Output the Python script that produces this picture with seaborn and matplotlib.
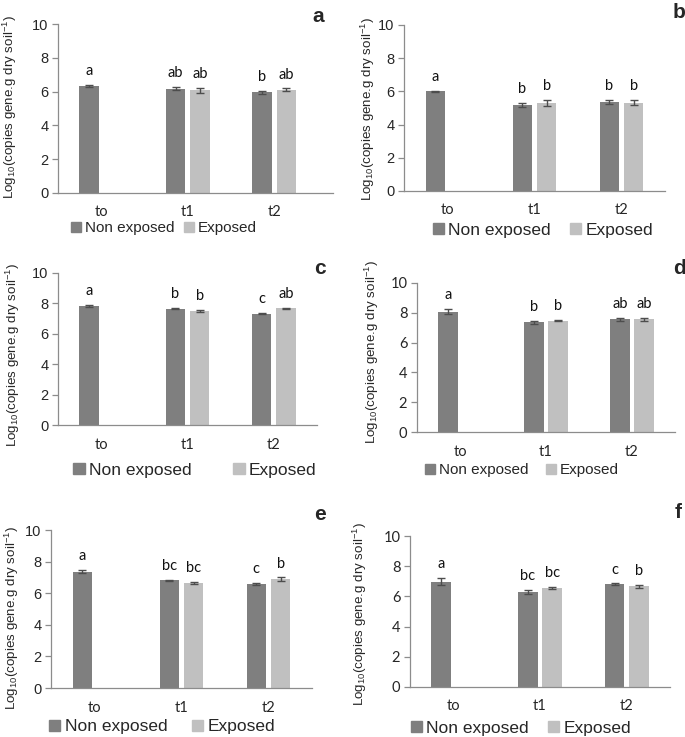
import numpy as np
import pandas as pd
import matplotlib
matplotlib.use('Agg')
import matplotlib.pyplot as plt
import seaborn as sns
from matplotlib.patches import Patch

# sampling times and treatments
groups = ['to', 't1', 't2']
treatments = ['Non exposed', 'Exposed']

# values (log10 copies), error bars, letters
a_non = [6.35, 6.18, 5.95]
a_non_err = [0.07, 0.08, 0.10]
a_exp = [0.0, 6.07, 6.12]
a_exp_err = [0.0, 0.13, 0.07]
a_let_non = ['a', 'ab', 'b']
a_let_exp = ['', 'ab', 'ab']

b_non = [6.00, 5.18, 5.38]
b_non_err = [0.03, 0.12, 0.12]
b_exp = [0.0, 5.32, 5.32]
b_exp_err = [0.0, 0.17, 0.15]
b_let_non = ['a', 'b', 'b']
b_let_exp = ['', 'b', 'b']

c_non = [7.82, 7.65, 7.33]
c_non_err = [0.06, 0.03, 0.04]
c_exp = [0.0, 7.52, 7.67]
c_exp_err = [0.0, 0.07, 0.03]
c_let_non = ['a', 'b', 'c']
c_let_exp = ['', 'b', 'ab']

d_non = [8.07, 7.35, 7.56]
d_non_err = [0.18, 0.10, 0.12]
d_exp = [0.0, 7.47, 7.56]
d_exp_err = [0.0, 0.05, 0.12]
d_let_non = ['a', 'b', 'ab']
d_let_exp = ['', 'b', 'ab']

e_non = [7.35, 6.82, 6.60]
e_non_err = [0.10, 0.02, 0.05]
e_exp = [0.0, 6.67, 6.90]
e_exp_err = [0.0, 0.07, 0.10]
e_let_non = ['a', 'bc', 'c']
e_let_exp = ['', 'bc', 'b']

f_non = [6.98, 6.30, 6.80]
f_non_err = [0.22, 0.12, 0.06]
f_exp = [0.0, 6.55, 6.67]
f_exp_err = [0.0, 0.06, 0.10]
f_let_non = ['a', 'bc', 'c']
f_let_exp = ['', 'bc', 'b']

sns.set_style('white')
plt.rcParams['font.family'] = ['Liberation Sans', 'DejaVu Sans']
plt.rcParams['mathtext.fontset'] = 'custom'
plt.rcParams['mathtext.rm'] = 'Liberation Sans'
plt.rcParams['mathtext.it'] = 'Liberation Sans'

W, H = 685, 737
dark = '#7f7f7f'
light = '#c0c0c0'
gray = '#8c8c8c'
ylab = r'Log$_{10}$(copies gene.g dry soil$^{-1}$)'

# layout per panel, in pixels of the final picture
panels = [
    dict(tag='a', non=a_non, ne=a_non_err, exp=a_exp, ee=a_exp_err, ln=a_let_non, le=a_let_exp,
         box=(58, 24, 333, 193), xmax=2.68, ytf='Liberation Sans', lab=(318, 17), ylx=(10, 107),
         leg=(164, 228), lfs=11, lcs=0.6),
    dict(tag='b', non=b_non, ne=b_non_err, exp=b_exp, ee=b_exp_err, ln=b_let_non, le=b_let_exp,
         box=(404, 25, 665, 191), xmax=2.5, ytf='Liberation Sans', lab=(679, 13), ylx=(368, 109),
         leg=(543, 230), lfs=12.5, lcs=1.1),
    dict(tag='c', non=c_non, ne=c_non_err, exp=c_exp, ee=c_exp_err, ln=c_let_non, le=c_let_exp,
         box=(58, 273, 317, 425), xmax=2.5, ytf='Liberation Sans', lab=(320, 268), ylx=(13, 355),
         leg=(195, 470), lfs=12.5, lcs=2.4),
    dict(tag='d', non=d_non, ne=d_non_err, exp=d_exp, ee=d_exp_err, ln=d_let_non, le=d_let_exp,
         box=(417, 283, 675, 432), xmax=2.5, ytf='Lato', lab=(680, 269), ylx=(372, 352),
         leg=(522, 470), lfs=11, lcs=1.2),
    dict(tag='e', non=e_non, ne=e_non_err, exp=e_exp, ee=e_exp_err, ln=e_let_non, le=e_let_exp,
         box=(51, 530, 312, 688), xmax=2.5, ytf='Liberation Sans', lab=(320, 515), ylx=(12, 618),
         leg=(162, 727), lfs=12.5, lcs=1.4),
    dict(tag='f', non=f_non, ne=f_non_err, exp=f_exp, ee=f_exp_err, ln=f_let_non, le=f_let_exp,
         box=(410, 536, 670, 687), xmax=2.5, ytf='Lato', lab=(678, 512), ylx=(360, 614),
         leg=(521, 728), lfs=12.5, lcs=1.1),
]

fig = plt.figure(figsize=(W / 100, H / 100), dpi=100)

for p in panels:
    l, t, r, b = p['box']
    ax = fig.add_axes([l / W, 1 - b / H, (r - l) / W, (b - t) / H])
    df = pd.DataFrame({
        'time': groups * 2,
        'treatment': [treatments[0]] * 3 + [treatments[1]] * 3,
        'value': p['non'] + p['exp'],
    })
    sns.barplot(data=df, x='time', y='value', hue='treatment', order=groups,
                hue_order=treatments, palette=[dark, light], width=0.56, gap=0.2,
                errorbar=None, linewidth=0, legend=False, ax=ax)

    # error bars and letters on top of each bar
    for cont, err, lets in zip(ax.containers, [p['ne'], p['ee']], [p['ln'], p['le']]):
        for rect, e, s in zip(cont, err, lets):
            h = rect.get_height()
            if h <= 0:
                continue
            xc = rect.get_x() + rect.get_width() / 2
            ax.errorbar(xc, h, yerr=e, fmt='none', ecolor='#4d4d4d', elinewidth=1,
                        capsize=3, capthick=1)
            ax.annotate(s, (xc, h + e), xytext=(0, 10), textcoords='offset points',
                        ha='center', va='center', fontsize=10.5, family='Lato', color='#111111')

    ax.set_ylim(0, 10)
    ax.set_xlim(-0.5, p['xmax'])
    ax.set_yticks(range(0, 11, 2))
    ax.set_xlabel('')
    ax.set_ylabel('')
    for side in ['top', 'right']:
        ax.spines[side].set_visible(False)
    ax.spines['left'].set_color(gray)
    ax.spines['bottom'].set_color(gray)
    ax.spines['left'].set_linewidth(0.9)
    ax.spines['bottom'].set_linewidth(0.9)
    ax.tick_params(axis='y', left=True, length=4, width=0.9, color=gray, pad=3,
                   labelsize=10.5)
    ax.tick_params(axis='x', bottom=False, length=0, pad=9, labelsize=10.5)
    for lbl in ax.get_yticklabels():
        lbl.set_family(p['ytf'])
    for lbl in ax.get_xticklabels():
        lbl.set_family('Lato')

    fig.text(p['ylx'][0] / W, 1 - p['ylx'][1] / H, ylab, rotation=90, ha='center',
             va='center', fontsize=9.6)
    fig.text(p['lab'][0] / W, 1 - p['lab'][1] / H, p['tag'], ha='center', va='center',
             fontsize=15, fontweight='bold')

    handles = [Patch(color=dark, label=treatments[0]), Patch(color=light, label=treatments[1])]
    fig.legend(handles=handles, loc='center',
               bbox_to_anchor=(p['leg'][0] / W, 1 - p['leg'][1] / H), ncol=2,
               frameon=False, fontsize=p['lfs'], handlelength=0.65, handleheight=0.65,
               handletextpad=0.25, columnspacing=p['lcs'], borderpad=0, borderaxespad=0)

fig.savefig('out.png', dpi=100)
